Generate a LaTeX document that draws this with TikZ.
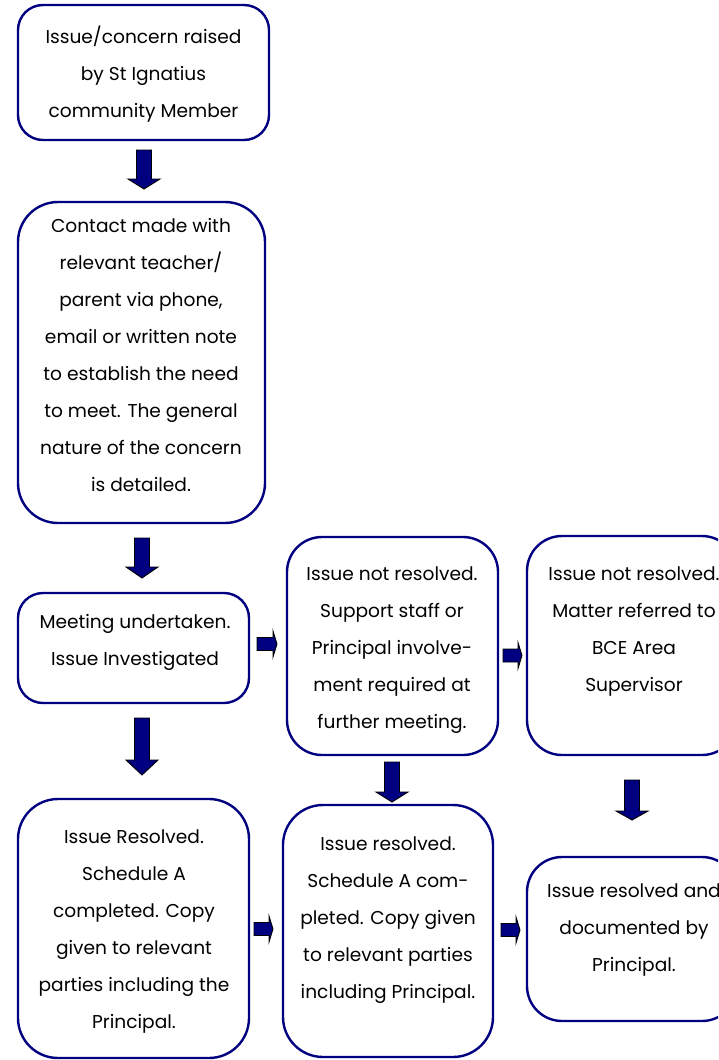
\documentclass[tikz,border=0pt]{standalone}
\usepackage{fontspec}
\setmainfont{Poppins}
\definecolor{navyb}{RGB}{0,0,128}
\tikzset{
  box/.style={draw=navyb, line width=2.4pt, fill=white, inner sep=0pt},
  txt/.style={align=center, inner sep=0pt, anchor=north, font=\fontsize{18.6}{37}\selectfont},
  blk/.style={fill=navyb, draw=black, line width=0.9pt, line join=miter},
}
\newcommand\downblk[4]{% cx top headbase tip
  \filldraw[blk] ({#1-7.5},#2) -- ({#1+7.5},#2) -- ({#1+7.5},#3) -- ({#1+16},#3) -- (#1,#4) -- ({#1-16},#3) -- ({#1-7.5},#3) -- cycle;}
\newcommand\rightblk[4]{% x0 headbase tip cy
  \filldraw[blk] (#1,{#4-6.5}) -- (#2,{#4-6.5}) -- (#2,{#4-13}) -- (#3,#4) -- (#2,{#4+13}) -- (#2,{#4+6.5}) -- (#1,{#4+6.5}) -- cycle;}
\newcommand\fl{\rule{0pt}{16pt}}
\begin{document}
\begin{tikzpicture}[x=1pt,y=-1pt]
\useasboundingbox (0,0) rectangle (718,1060);
\clip (0,0) rectangle (718,1060);
\fill[white] (0,0) rectangle (718,1060);
% boxes
\node[box, rounded corners=25pt, minimum width=251pt, minimum height=135pt] (b1) at (143.5,72.5) {};
\node[box, rounded corners=40pt, minimum width=247pt, minimum height=321pt] (b2) at (141.5,362.5) {};
\node[box, rounded corners=25pt, minimum width=231pt, minimum height=110pt] (b3) at (133.5,648) {};
\node[box, rounded corners=40pt, minimum width=231pt, minimum height=259pt] (b4) at (133.5,928.5) {};
\node[box, rounded corners=35pt, minimum width=211pt, minimum height=218pt] (b5) at (392.5,646) {};
\node[box, rounded corners=40pt, minimum width=210pt, minimum height=252pt] (b6) at (388,931) {};
\node[box, rounded corners=35pt, minimum width=210pt, minimum height=219pt] (b7) at (632,645.5) {};
\node[box, rounded corners=35pt, minimum width=210pt, minimum height=164pt] (b8) at (632,939) {};
% texts
\node[txt] (t1) at (143.5,{42-16}) {\fl Issue/concern raised\\by St Ignatius\\community Member};
\node[txt] (t2) at (141,{232-16}) {\fl Contact made with\\relevant teacher/\\parent via phone,\\email or written note\\to establish the need\\to meet. The general\\nature of the concern\\is detailed.};
\node[txt] (t3) at (135,{628-16}) {\fl Meeting undertaken.\\Issue Investigated};
\node[txt] (t4) at (134,{843-16}) {\fl Issue Resolved.\\Schedule A\\completed. Copy\\given to relevant\\parties including the\\Principal.};
\node[txt] (t5) at (392,{580-16}) {\fl Issue not resolved.\\Support staff or\\Principal involve-\\ment required at\\further meeting.};
\node[txt] (t6) at (388,{850-16}) {\fl Issue resolved.\\Schedule A com-\\pleted. Copy given\\to relevant parties\\including Principal.};
\node[txt] (t7) at (634,{580-16}) {\fl Issue not resolved.\\Matter referred to\\BCE Area\\Supervisor};
\node[txt] (t8) at (634,{897-16}) {\fl Issue resolved and\\documented by\\Principal.};
% block arrows
\downblk{144}{150}{179}{189}
\downblk{142}{538}{567}{578}
\downblk{142}{718}{760}{775}
\downblk{392}{762}{792}{802}
\downblk{632}{780}{811}{820}
\rightblk{257}{273}{277}{644}
\rightblk{503}{518}{522}{655.5}
\rightblk{254}{269}{273}{929}
\rightblk{501}{516}{520}{930}
\end{tikzpicture}
\end{document}
